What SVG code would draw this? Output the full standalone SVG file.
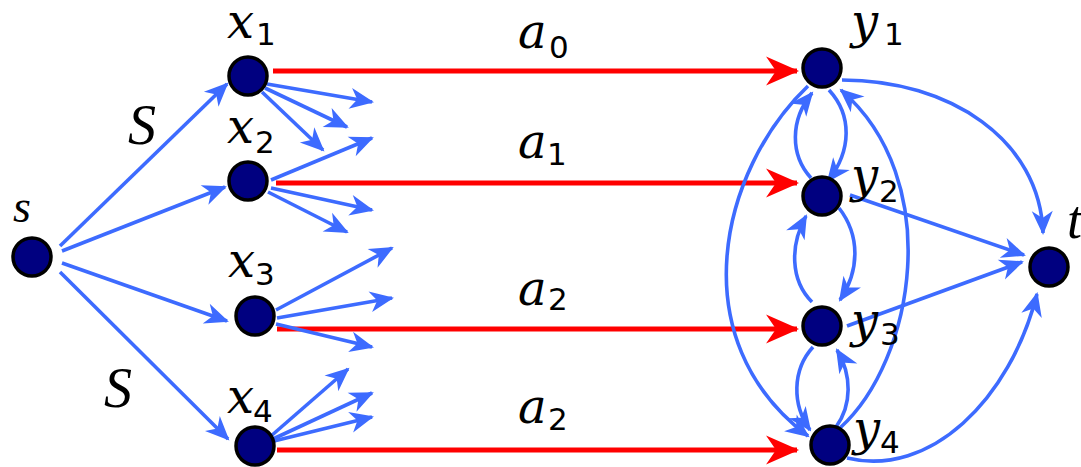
<svg xmlns="http://www.w3.org/2000/svg" width="1081" height="467" viewBox="0 0 1081 467">
<style>
.b{fill:none;stroke:#3d6bff;stroke-width:3.6;marker-end:url(#ab)}
.r{fill:none;stroke:#ff0000;stroke-width:5;marker-end:url(#ar)}
.n{fill:#000080;stroke:#000;stroke-width:3.5}
.v{font-family:"DejaVu Serif",serif;font-style:italic;font-size:48px;fill:#000}
.t{font-family:"Liberation Serif",serif;font-style:italic;fill:#000}
.s{font-family:"DejaVu Sans",sans-serif;font-size:31px;fill:#000}
</style>
<defs>
<marker id="ab" markerUnits="userSpaceOnUse" markerWidth="30" markerHeight="26" viewBox="-27 -13 30 26" refX="0" refY="0" orient="auto"><path d="M2,0 L-22,-10.5 L-15,0 L-22,10.5 z" fill="#3d6bff"/></marker>
<marker id="ar" markerUnits="userSpaceOnUse" markerWidth="40" markerHeight="34" viewBox="-36 -17 40 34" refX="0" refY="0" orient="auto"><path d="M2,0 L-31,-14.5 L-21,0 L-31,14.5 z" fill="#ff0000"/></marker>
</defs>
<g id="connectors">
<path class="r" d="M273,71 L797,71"/>
<path class="r" d="M276,183 L797,183"/>
<path class="r" d="M277,329 L797,329"/>
<path class="r" d="M277,450 L797,450"/>
<path class="b" d="M60,246 L227,84"/>
<path class="b" d="M62,251 L225,187"/>
<path class="b" d="M62,263 L227,321"/>
<path class="b" d="M60,272 L228,439"/>
<path class="b" d="M267,84 L372,102"/>
<path class="b" d="M265,88 L347,127"/>
<path class="b" d="M262,92 L323,150"/>
<path class="b" d="M271,180 L372,138"/>
<path class="b" d="M271,188 L372,210"/>
<path class="b" d="M268,192 L347,232"/>
<path class="b" d="M276,310 L392,248"/>
<path class="b" d="M277,318 L392,298"/>
<path class="b" d="M276,324 L372,347"/>
<path class="b" d="M271,436 L348,369"/>
<path class="b" d="M273,439 L372,393"/>
<path class="b" d="M274,441 L372,417"/>
<path class="b" d="M842,80 C950,80 1040,140 1043,233"/>
<path class="b" d="M850,195 L1024,255"/>
<path class="b" d="M847,326 L1022,262"/>
<path class="b" d="M847,458 C930,478 1010,400 1037,294"/>
<path class="b" d="M829,90 C852,115 852,150 828,181"/>
<path class="b" d="M811,178 C790,155 790,120 812,93"/>
<path class="b" d="M839,208 C860,235 860,270 840,300"/>
<path class="b" d="M812,302 C790,280 790,245 806,216"/>
<path class="b" d="M813,347 C792,370 792,405 810,430"/>
<path class="b" d="M836,427 C852,405 852,375 837,350"/>
<path class="b" d="M808,86 C720,170 680,340 808,436"/>
<path class="b" d="M840,428 C915,360 945,180 841,90"/>
</g>
<g id="labels">
<text class="t" x="128" y="144" font-size="56">S</text>
<text class="t" x="104" y="407" font-size="56">S</text>
<text class="v" x="518" y="48">a</text><text class="s" x="549" y="58">0</text>
<text class="v" x="518" y="158">a</text><text class="s" x="547" y="165">1</text>
<text class="v" x="518" y="305">a</text><text class="s" x="548" y="310">2</text>
<text class="v" x="518" y="423">a</text><text class="s" x="548" y="430">2</text>
</g>
<g id="node-s"><circle class="n" cx="32" cy="257" r="19"/><text class="t" x="13" y="222" font-size="46">s</text></g>
<g id="node-x1"><circle class="n" cx="248" cy="76" r="19"/><text class="v" x="227" y="38">x</text><text class="s" x="256" y="45">1</text></g>
<g id="node-x2"><circle class="n" cx="248" cy="181" r="19"/><text class="v" x="227" y="143">x</text><text class="s" x="255" y="153">2</text></g>
<g id="node-x3"><circle class="n" cx="255" cy="316" r="19"/><text class="v" x="228" y="277">x</text><text class="s" x="255" y="285">3</text></g>
<g id="node-x4"><circle class="n" cx="255" cy="446" r="19"/><text class="v" x="227" y="413">x</text><text class="s" x="253" y="422">4</text></g>
<g id="node-y1"><circle class="n" cx="822" cy="68" r="19"/><text class="v" x="851" y="38">y</text><text class="s" x="884" y="45">1</text></g>
<g id="node-y2"><circle class="n" cx="822" cy="196" r="19"/><text class="v" x="851" y="192">y</text><text class="s" x="879" y="202">2</text></g>
<g id="node-y3"><circle class="n" cx="822" cy="326" r="19"/><text class="v" x="851" y="337">y</text><text class="s" x="880" y="345">3</text></g>
<g id="node-y4"><circle class="n" cx="830" cy="445" r="19"/><text class="v" x="853" y="445">y</text><text class="s" x="880" y="453">4</text></g>
<g id="node-t"><circle class="n" cx="1049" cy="267" r="19"/><text class="t" x="1067" y="238" font-size="54">t</text></g>
</svg>
